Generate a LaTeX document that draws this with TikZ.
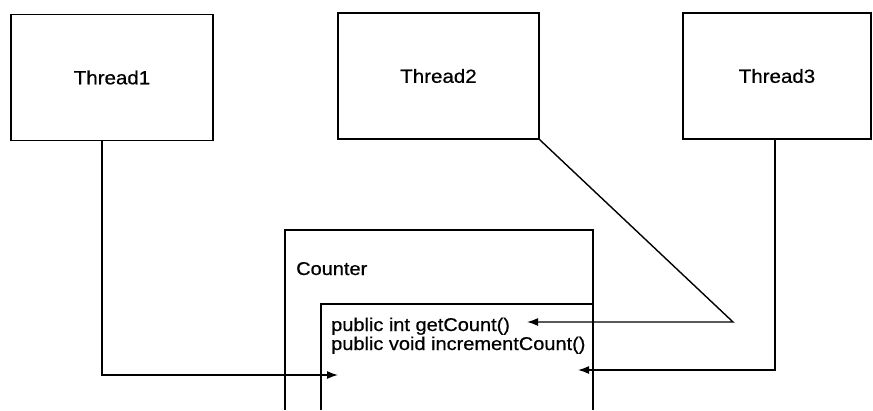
\documentclass[tikz,border=0pt]{standalone}
\usepackage{fontspec}
\setmainfont{Liberation Sans}[FakeStretch=1.08,FakeBold=0.6]
\usetikzlibrary{arrows.meta}
\begin{document}
\begin{tikzpicture}[x=1pt,y=-1pt,
  ln/.style={line width=1.4pt,black},
  arr/.style={ln,-{Latex[length=11pt,width=8pt]}},
  thread/.style={draw,line width=1.4pt,minimum width=#1,minimum height=126pt,inner sep=0pt,font=\fontsize{19}{19}\selectfont},
  lbl/.style={anchor=base west,inner sep=0pt,font=\fontsize{18.5}{19}\selectfont}]
\useasboundingbox (0,0) rectangle (873,410);
\node[thread=202pt] (t1) at (112,77.5) {Thread1};
\node[thread=201pt] (t2) at (438.5,76) {Thread2};
\node[thread=188pt] (t3) at (777,76) {Thread3};
% Counter box (open at the bottom)
\coordinate (cbl) at (285,410);
\coordinate (ctl) at (285,230);
\coordinate (ctr) at (593,230);
\coordinate (cbr) at (593,410);
\draw[ln] (cbl) -- (ctl) -- (ctr) -- (cbr);
\coordinate (ibl) at (321,410);
\coordinate (itl) at (321,304);
\coordinate (itr) at (593,304);
\draw[ln] (ibl) -- (itl) -- (itr);
\node[lbl] (cname) at (296,275) {Counter};
\node[lbl] (m1) at (331,331) {public int getCount()};
\node[lbl] (m2) at (331,350) {public void incrementCount()};
% connectors
\coordinate (a1) at (338,375);
\coordinate (x1) at (102,0);
\draw[arr] (t1.south -| x1) |- (a1);
\coordinate (k2) at (733,322);
\coordinate (a2) at (527,322);
\draw[arr] (t2.south east) -- (k2) -- (a2);
\coordinate (a3) at (578,370);
\coordinate (x3) at (775,0);
\draw[arr] (t3.south -| x3) |- (a3);
\end{tikzpicture}
\end{document}
